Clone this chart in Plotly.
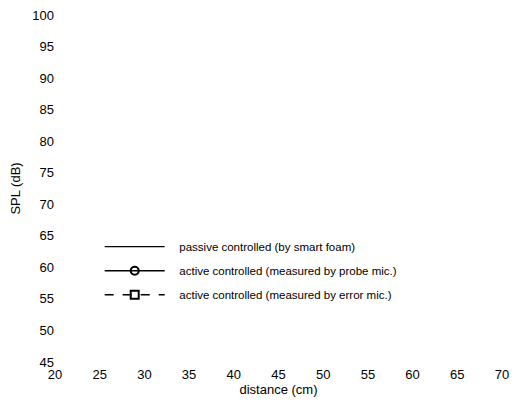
import plotly.graph_objects as go

# Data (no data points visible in the reference; only legend entries)
distance_ticks = [20, 25, 30, 35, 40, 45, 50, 55, 60, 65, 70]
spl_ticks = [45, 50, 55, 60, 65, 70, 75, 80, 85, 90, 95, 100]
series_names = [
    "passive controlled (by smart foam)",
    "active controlled (measured by probe mic.)",
    "active controlled (measured by error mic.)",
]
passive_x, passive_y = [None], [None]
probe_x, probe_y = [None], [None]
error_x, error_y = [None], [None]

font = "Liberation Sans, Arial, Helvetica, sans-serif"
pad = "\u00a0" * 3  # gap between legend sample and its label

fig = go.Figure()
fig.add_trace(go.Scatter(x=passive_x, y=passive_y, name=pad + series_names[0], mode="lines",
                         line=dict(color="black", width=1.2), legendgroup="a"))
fig.add_trace(go.Scatter(x=probe_x, y=probe_y, name=pad + series_names[1], mode="lines+markers",
                         line=dict(color="black", width=1.5),
                         marker=dict(symbol="circle-open", size=8, color="black", line=dict(width=2)),
                         legendgroup="b"))
fig.add_trace(go.Scatter(x=error_x, y=error_y, name=pad + series_names[2], mode="lines+markers",
                         line=dict(color="black", width=1.5, dash="dash"),
                         marker=dict(symbol="square-open", size=8, color="black", line=dict(width=2)),
                         legendgroup="c"))

fig.update_layout(
    width=517, height=405,
    margin=dict(l=55, r=9, t=8, b=43),
    paper_bgcolor="white", plot_bgcolor="white",
    font=dict(family=font, size=13, color="black"),
    showlegend=True,
    legend=dict(x=0.1, y=0.374, xanchor="left", yanchor="top",
                bgcolor="rgba(0,0,0,0)", font=dict(size=11.5, family=font),
                itemwidth=60, tracegroupgap=5, traceorder="grouped"),
    xaxis=dict(range=[20, 70], tickvals=distance_ticks, showgrid=False, zeroline=False,
               showline=False, ticks="", ticklabelstandoff=3,
               title=dict(text="distance (cm)", standoff=3, font=dict(size=13)),
               tickfont=dict(size=13)),
    yaxis=dict(range=[45, 100], tickvals=spl_ticks, showgrid=False, zeroline=False,
               showline=False, ticks="", title=dict(text="SPL (dB)", standoff=8,
               font=dict(size=13)), tickfont=dict(size=13)),
)

fig.write_html("out.html")
